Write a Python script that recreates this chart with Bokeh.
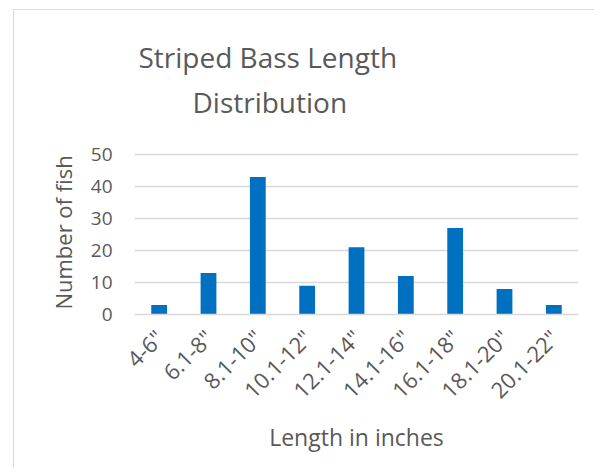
import math
from bokeh.plotting import figure
from bokeh.models import Range1d, FactorRange, Title, FixedTicker, CategoricalAxis
from bokeh.embed import file_html
from bokeh.resources import INLINE

# ---- data ----
categories = ['4-6"', '6.1-8"', '8.1-10"', '10.1-12"', '12.1-14"',
              '14.1-16"', '16.1-18"', '18.1-20"', '20.1-22"']
counts = [3, 13, 43, 9, 21, 12, 27, 8, 3]
y_ticks = [0, 10, 20, 30, 40, 50]
title_lines = ["Striped Bass Length", "Distribution"]
x_title = "Length in inches"
y_title = "Number of fish"

FONT = "Open Sans"
TXT = "#595959"
GRID = "#d9d9d9"
BAR = "#0070C0"

p = figure(width=581, height=458,
           x_range=FactorRange(*categories), y_range=Range1d(0, 51.25),
           output_backend="svg", toolbar_location=None,
           min_border_left=120, min_border_right=17,
           min_border_top=140, min_border_bottom=154)
p.styles = {"margin-left": "13px", "margin-top": "9px",
            "border-left": f"1px solid {GRID}", "border-top": f"1px solid {GRID}"}
p.outline_line_color = None
p.background_fill_color = "white"
p.border_fill_color = "white"

p.vbar(x=categories, top=counts, width=0.32, fill_color=BAR, line_color=None)

# axes
p.yaxis.ticker = FixedTicker(ticks=y_ticks)
p.yaxis.axis_line_color = None
p.yaxis.major_tick_line_color = None
p.yaxis.minor_tick_line_color = None
p.yaxis.major_tick_out = 0
p.yaxis.major_tick_in = 0
p.yaxis.major_label_standoff = 22
p.yaxis.major_label_text_font = FONT
p.yaxis.major_label_text_font_size = "19px"
p.yaxis.major_label_text_color = TXT
p.yaxis.axis_label = y_title
p.yaxis.axis_label_text_font = FONT
p.yaxis.axis_label_text_font_size = "22px"
p.yaxis.axis_label_text_font_style = "normal"
p.yaxis.axis_label_text_color = TXT
p.yaxis.axis_label_standoff = 10

p.xaxis.axis_line_color = GRID
p.xaxis.axis_line_width = 1.5
p.xaxis.major_tick_line_color = None
p.xaxis.minor_tick_line_color = None
p.xaxis.major_tick_out = 0
p.xaxis.major_tick_in = 0
p.xaxis.major_label_orientation = math.pi / 4
p.xaxis.major_label_standoff = 19
p.xaxis.major_label_text_font = FONT
p.xaxis.major_label_text_font_size = "22px"
p.xaxis.major_label_text_color = TXT
p.xaxis.axis_label = x_title
p.xaxis.axis_label_text_font = FONT
p.xaxis.axis_label_text_font_size = "23px"
p.xaxis.axis_label_text_font_style = "normal"
p.xaxis.axis_label_text_color = TXT
p.xaxis.axis_label_standoff = 4

p.xgrid.visible = False
p.ygrid.grid_line_color = GRID
p.ygrid.grid_line_width = 1.5

# invisible spacer axis between the frame and the title block
spacer = CategoricalAxis(axis_line_color=None, major_tick_line_color=None,
                         minor_tick_line_color=None, major_tick_out=30,
                         major_tick_in=0, major_label_standoff=0,
                         major_label_text_color=None,
                         major_label_text_font_size="1px")
p.add_layout(spacer, "above")

# two-line title, placed above the spacer (inner line first)
for txt, off, so in [(title_lines[1], 58, 0), (title_lines[0], 4, 10)]:
    p.add_layout(Title(text=txt, align="left", offset=off, standoff=so,
                       text_font=FONT, text_font_size="28px",
                       text_font_style="normal", text_color=TXT), "above")

open("out.html", "w").write(file_html(p, INLINE))
